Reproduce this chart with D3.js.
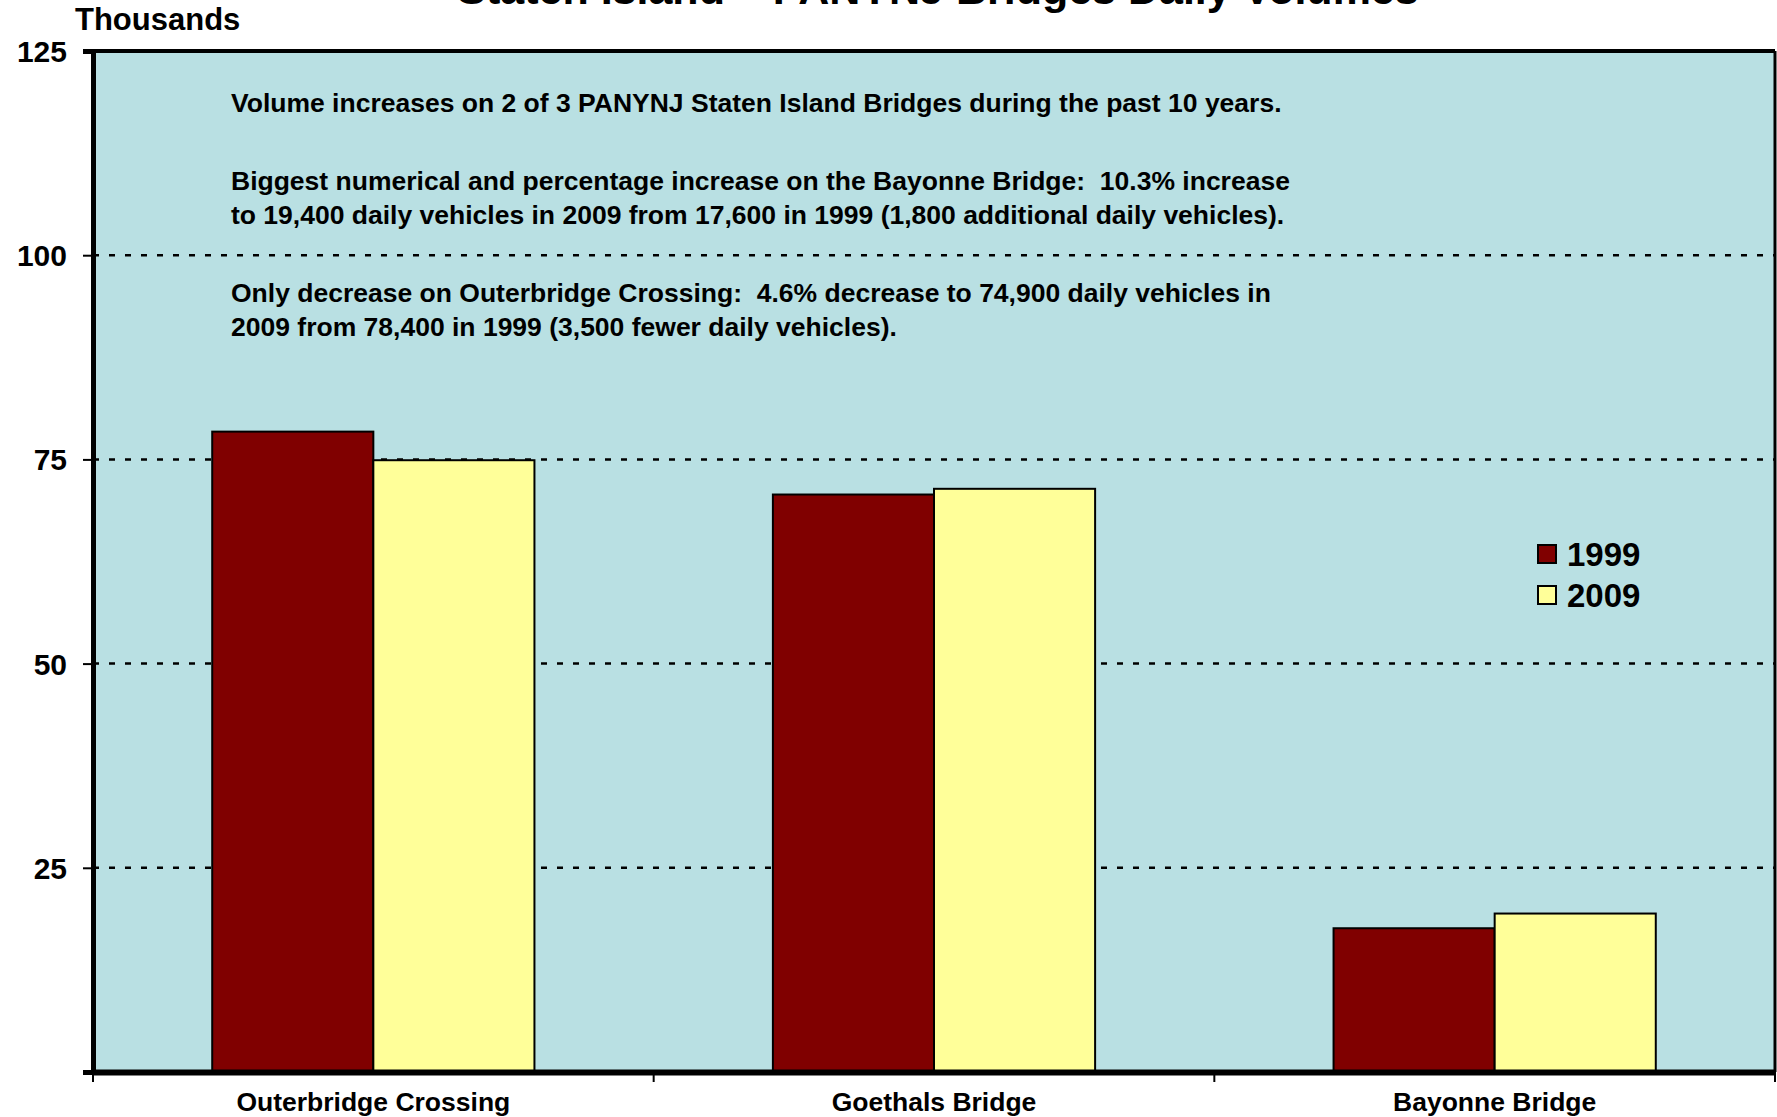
<!DOCTYPE html>
<meta charset="utf-8">
<script src="https://d3js.org/d3.v7.min.js"></script>
<style>
  body { margin: 0; background: #fff; }
  text { font-family: "Liberation Sans", Arial, sans-serif; font-weight: bold; fill: #000; white-space: pre; }
</style>
<div id="my_dataviz"></div>
<script>

// data (thousands of daily vehicles)
var bridges = ["Outerbridge Crossing", "Goethals Bridge", "Bayonne Bridge"]
var years = ["1999", "2009"]
var vol1999 = [78.4, 70.7, 17.6]
var vol2009 = [74.9, 71.4, 19.4]
var yTicks = [25, 50, 75, 100, 125]
var colors = ["#800000", "#FFFF99"]

var notes = [
  ["Volume increases on 2 of 3 PANYNJ Staten Island Bridges during the past 10 years."],
  ["Biggest numerical and percentage increase on the Bayonne Bridge:  10.3% increase",
   "to 19,400 daily vehicles in 2009 from 17,600 in 1999 (1,800 additional daily vehicles)."],
  ["Only decrease on Outerbridge Crossing:  4.6% decrease to 74,900 daily vehicles in",
   "2009 from 78,400 in 1999 (3,500 fewer daily vehicles)."]
]

var width = 1777, height = 1117
var margin = {top: 51, right: 2, bottom: 45, left: 93}
var innerW = width - margin.left - margin.right
var innerH = height - margin.top - margin.bottom

var svg = d3.select("#my_dataviz")
  .append("svg")
    .attr("width", width)
    .attr("height", height)

// title sits mostly above the visible area, like the original crop
svg.append("text")
  .attr("x", 938).attr("y", 4)
  .attr("text-anchor", "middle")
  .style("font-size", "43px")
  .text("Staten Island – PANYNJ Bridges Daily Volumes")

var g = svg.append("g")
  .attr("transform", "translate(" + margin.left + "," + margin.top + ")")

var y = d3.scaleLinear().domain([0, 125]).range([innerH, 0])
var x0 = d3.scaleBand().domain(bridges).range([0, innerW])
var x1 = d3.scaleBand().domain(years).range([0, x0.bandwidth()]).paddingOuter(0.74)

// plot background
g.append("rect")
  .attr("width", innerW).attr("height", innerH)
  .attr("fill", "#B9E0E3")

// dotted gridlines
g.selectAll(".grid")
  .data(yTicks.filter(function(d){ return d < 125 }))
  .enter().append("line")
    .attr("x1", 0).attr("x2", innerW)
    .attr("y1", function(d){ return y(d) }).attr("y2", function(d){ return y(d) })
    .attr("stroke", "#000").attr("stroke-width", 2.5)
    .attr("stroke-dasharray", "6,10")

// bars
var rows = bridges.map(function(b, i){ return {bridge: b, vals: [vol1999[i], vol2009[i]]} })
var groups = g.selectAll(".grp")
  .data(rows)
  .enter().append("g")
    .attr("transform", function(d){ return "translate(" + x0(d.bridge) + ",0)" })

groups.selectAll("rect")
  .data(function(d){ return d.vals.map(function(v, j){ return {year: years[j], value: v, c: colors[j]} }) })
  .enter().append("rect")
    .attr("x", function(d){ return x1(d.year) })
    .attr("width", x1.bandwidth())
    .attr("y", function(d){ return y(d.value) })
    .attr("height", function(d){ return innerH - y(d.value) })
    .attr("fill", function(d){ return d.c })
    .attr("stroke", "#000").attr("stroke-width", 2)

// frame: top and right thinner, left and bottom axes heavier
g.append("line").attr("x1", 0).attr("x2", innerW).attr("y1", 0).attr("y2", 0)
  .attr("stroke", "#000").attr("stroke-width", 4)
g.append("line").attr("x1", innerW).attr("x2", innerW).attr("y1", 0).attr("y2", innerH)
  .attr("stroke", "#000").attr("stroke-width", 3)

// y axis
var yAxis = g.append("g")
  .call(d3.axisLeft(y).tickValues([0].concat(yTicks)).tickSize(10).tickPadding(16)
    .tickFormat(function(d){ return d === 0 ? "" : d }))
yAxis.select(".domain").attr("stroke-width", 5)
yAxis.selectAll(".tick line").attr("stroke-width", 2)
yAxis.selectAll("text").style("font-size", "30px").attr("dy", "0.35em")

// x axis
var xAxis = g.append("g")
  .attr("transform", "translate(0," + innerH + ")")
  .call(d3.axisBottom(x0).tickSize(0).tickPadding(20))
xAxis.select(".domain").attr("stroke-width", 6)
xAxis.selectAll("text").style("font-size", "26.5px")
// category boundary ticks
xAxis.selectAll(".sep")
  .data(bridges.concat(["end"]))
  .enter().append("line")
    .attr("x1", function(d, i){ return i * x0.step() }).attr("x2", function(d, i){ return i * x0.step() })
    .attr("y1", 0).attr("y2", 10)
    .attr("stroke", "#000").attr("stroke-width", 2)

// unit label
svg.append("text")
  .attr("x", 75).attr("y", 30)
  .style("font-size", "31px")
  .text("Thousands")

// annotation text: paragraphs of lines
var lineGap = 34, paraGap = 78
var note = g.append("text")
  .style("font-size", "26.5px")
var yCursor = 61
notes.forEach(function(para, pi){
  if (pi > 0) yCursor += paraGap - lineGap
  para.forEach(function(line, li){
    if (pi > 0 || li > 0) yCursor += lineGap
    note.append("tspan")
      .attr("x", 138).attr("y", yCursor)
      .text(line)
  })
})

// legend
var legend = g.selectAll(".legend")
  .data(years)
  .enter().append("g")
    .attr("transform", function(d, i){ return "translate(1445," + (494 + i * 41) + ")" })
legend.append("rect")
  .attr("width", 18).attr("height", 18)
  .attr("fill", function(d, i){ return colors[i] })
  .attr("stroke", "#000").attr("stroke-width", 2)
legend.append("text")
  .attr("x", 29).attr("y", 9).attr("dy", "0.36em")
  .style("font-size", "33px")
  .text(function(d){ return d })

</script>
